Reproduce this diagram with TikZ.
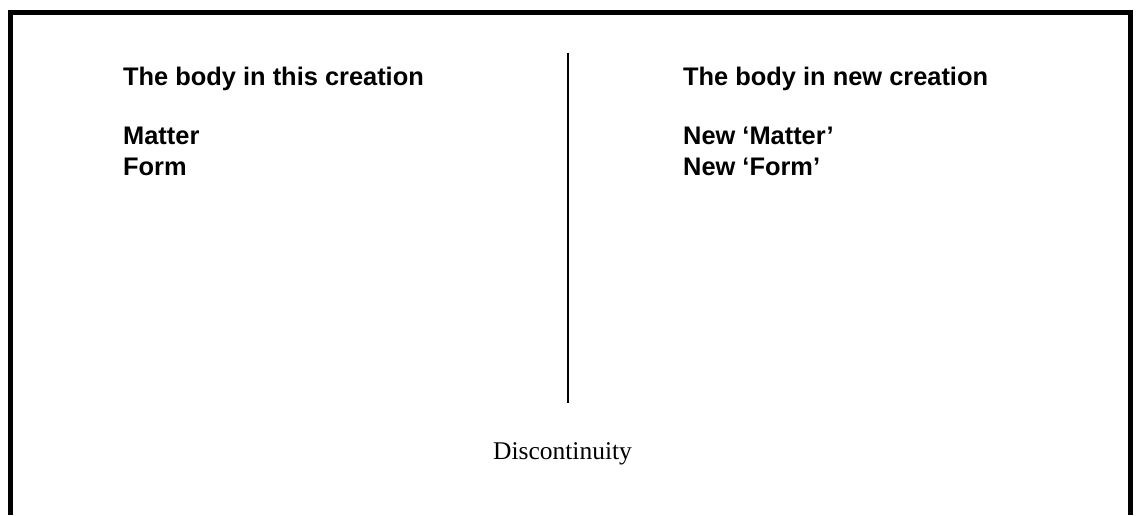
\documentclass[tikz,border=0pt]{standalone}
\usepackage{fontspec}
\setmainfont{Liberation Serif}
\newfontfamily\arialbold{Liberation Sans}[BoldFont={* Bold}]
\tikzset{
    label/.style={anchor=base west, inner sep=0pt, font=\arialbold\bfseries\fontsize{25.4}{30}\selectfont},
    gap/.style={anchor=base, inner sep=0pt, font=\fontsize{25.5}{30}\selectfont}
}
\begin{document}
\begin{tikzpicture}[x=1pt,y=1pt]
    \useasboundingbox (0,0) rectangle (1137,515);
    \draw[line width=5pt] (10,0) -- (10,502) -- (1130.5,502) -- (1130.5,0);
    \coordinate (top) at (568,462);
    \coordinate (bottom) at (568,112);
    \draw[line width=2pt] (top) -- (bottom);
    \node[label] (thisbody) at (123,429) {The body in this creation};
    \node[label] (matter) at (123,370) {Matter};
    \node[label] (form) at (123,340) {Form};
    \node[label] (newbody) at (683,429) {The body in new creation};
    \node[label] (newmatter) at (683,370) {New ‘Matter’};
    \node[label] (newform) at (683,340) {New ‘Form’};
    \node[gap] (gap) at (562.5,56) {Discontinuity};
\end{tikzpicture}
\end{document}
